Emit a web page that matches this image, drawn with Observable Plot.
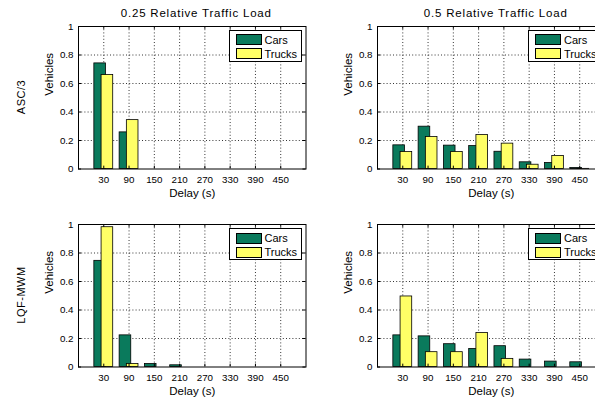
<!DOCTYPE html>
<html>
<head>
<meta charset="utf-8">
<script src="https://cdn.jsdelivr.net/npm/d3@7"></script>
<script src="https://cdn.jsdelivr.net/npm/@observablehq/plot@0.6"></script>
<style>
  html, body { margin: 0; padding: 0; background: #fff; }
  #root { position: relative; width: 595px; height: 400px; overflow: hidden; font-family: "Liberation Sans", Arial, sans-serif; color: #000; }
  .abs { position: absolute; white-space: nowrap; }
  .title { font-size: 11.5px; letter-spacing: 0.8px; transform: translateX(-50%); line-height: 1; }
  .rowlab { font-size: 11px; letter-spacing: 0.5px; transform: translate(-50%, -50%) rotate(-90deg); line-height: 1; }
  .legend { background: #fff; border: 1px solid #000; box-sizing: border-box; font-size: 11px; }
  .legend .item { position: absolute; display: flex; align-items: center; }
  .legend .sw { width: 26px; height: 11px; border: 1px solid #000; box-sizing: border-box; margin-right: 3px; }
  svg text.lbl { letter-spacing: 0.4px; }
</style>
</head>
<body>
<div id="root"></div>
<script>
// ---- data ----
const delays = [30, 90, 150, 210, 270, 330, 390, 450];
const seriesNames = ["Cars", "Trucks"];
const colors = ["#0a7a5c", "#ffff66"];
const panelTitles = ["0.25 Relative Traffic Load", "0.5 Relative Traffic Load"];
const rowLabels = ["ASC/3", "LQF-MWM"];
const yTicks = [0, 0.2, 0.4, 0.6, 0.8, 1];

const carsAsc25   = [0.741, 0.257, 0, 0, 0, 0, 0, 0];
const trucksAsc25 = [0.659, 0.343, 0, 0, 0, 0, 0, 0];
const carsAsc50   = [0.166, 0.297, 0.164, 0.161, 0.121, 0.047, 0.042, 0.007];
const trucksAsc50 = [0.119, 0.224, 0.119, 0.238, 0.178, 0.030, 0.091, 0.001];
const carsLqf25   = [0.745, 0.222, 0.021, 0.012, 0, 0, 0, 0];
const trucksLqf25 = [0.981, 0.021, 0, 0, 0, 0, 0, 0];
const carsLqf50   = [0.222, 0.215, 0.160, 0.127, 0.146, 0.052, 0.038, 0.033];
const trucksLqf50 = [0.495, 0.104, 0.104, 0.238, 0.057, 0, 0, 0];

// ---- layout ----
const root = document.getElementById("root");
const FW = 227.5, FH = 142.5;           // frame size
const mL = 60, mR = 2, mT = 4, mB = 34;
const barW = 0.46, barOff = 0.143;      // in category units
const idx = delays.map((d, i) => i + 1);

function panel(cars, trucks, frameLeft, frameTop) {
  const rows = [];
  [cars, trucks].forEach((vals, s) => vals.forEach((v, i) => { if (v > 0) rows.push({s, i: i + 1, v}); }));
  const fontFamily = '"Liberation Sans", Arial, sans-serif';
  const chart = Plot.plot({
    width: mL + FW + mR, height: mT + FH + mB,
    marginLeft: mL, marginRight: mR, marginTop: mT, marginBottom: mB,
    style: {fontFamily, fontSize: "9.5px", color: "#000", background: "transparent", overflow: "visible"},
    x: {type: "linear", domain: [0, 9]},
    y: {domain: [0, 1]},
    marks: [
      Plot.gridX(idx, {stroke: "#000", strokeOpacity: 1, strokeWidth: 0.8, strokeDasharray: "1,2.2"}),
      Plot.gridY([0.2, 0.4, 0.6, 0.8], {stroke: "#000", strokeOpacity: 1, strokeWidth: 0.8, strokeDasharray: "1,2.2"}),
      Plot.rectY(rows, {
        x1: d => d.i + (d.s === 0 ? -barOff : barOff) - barW / 2,
        x2: d => d.i + (d.s === 0 ? -barOff : barOff) + barW / 2,
        y1: 0, y2: "v",
        fill: d => colors[d.s], stroke: "#000", strokeWidth: 0.8
      }),
      // inward tick marks (MATLAB style)
      Plot.ruleX(idx, {y1: 0, y2: 0.02, stroke: "#000"}),
      Plot.ruleX(idx, {y1: 0.98, y2: 1, stroke: "#000"}),
      Plot.ruleY(yTicks, {x1: 0, x2: 0.12, stroke: "#000"}),
      Plot.ruleY(yTicks, {x1: 8.88, x2: 9, stroke: "#000"}),
      Plot.frame({stroke: "#000", strokeWidth: 1}),
      Plot.axisX(idx, {tickSize: 0, tickPadding: 7, tickFormat: i => delays[i - 1], label: null, fontSize: 9.8}),
      Plot.axisY(yTicks, {tickSize: 0, tickPadding: 5, tickFormat: d => String(d), label: null, fontSize: 9.8}),
      Plot.text(["Delay (s)"], {frameAnchor: "bottom", dy: 20, lineAnchor: "top", fontSize: 11.5, className: "lbl"}),
      Plot.text(["Vehicles"], {frameAnchor: "left", dx: -29, dy: -2, rotate: -90, fontSize: 11.5, className: "lbl"})
    ]
  });
  chart.style.position = "absolute";
  chart.style.left = (frameLeft - mL) + "px";
  chart.style.top = (frameTop - mT) + "px";
  root.appendChild(chart);

  // legend box (upper right inside the axes)
  const lg = document.createElement("div");
  lg.className = "abs legend";
  lg.style.left = (frameLeft + 151) + "px";
  lg.style.top = (frameTop + 4) + "px";
  lg.style.width = "73px";
  lg.style.height = "32px";
  seriesNames.forEach((name, s) => {
    const it = document.createElement("div");
    it.className = "item";
    it.style.left = "6px";
    it.style.top = (3 + s * 14) + "px";
    const sw = document.createElement("div");
    sw.className = "sw";
    sw.style.background = colors[s];
    const t = document.createElement("span");
    t.textContent = name;
    it.appendChild(sw); it.appendChild(t);
    lg.appendChild(it);
  });
  root.appendChild(lg);
}

const lefts = [77.5, 377];
const tops = [25.5, 224];
panel(carsAsc25, trucksAsc25, lefts[0], tops[0]);
panel(carsAsc50, trucksAsc50, lefts[1], tops[0]);
panel(carsLqf25, trucksLqf25, lefts[0], tops[1]);
panel(carsLqf50, trucksLqf50, lefts[1], tops[1]);

panelTitles.forEach((t, c) => {
  const d = document.createElement("div");
  d.className = "abs title";
  d.textContent = t;
  d.style.left = (lefts[c] + FW / 2 + 5) + "px";
  d.style.top = "8px";
  root.appendChild(d);
});
rowLabels.forEach((t, r) => {
  const d = document.createElement("div");
  d.className = "abs rowlab";
  d.textContent = t;
  d.style.left = "21px";
  d.style.top = (tops[r] + FH / 2) + "px";
  root.appendChild(d);
});
</script>
</body>
</html>
